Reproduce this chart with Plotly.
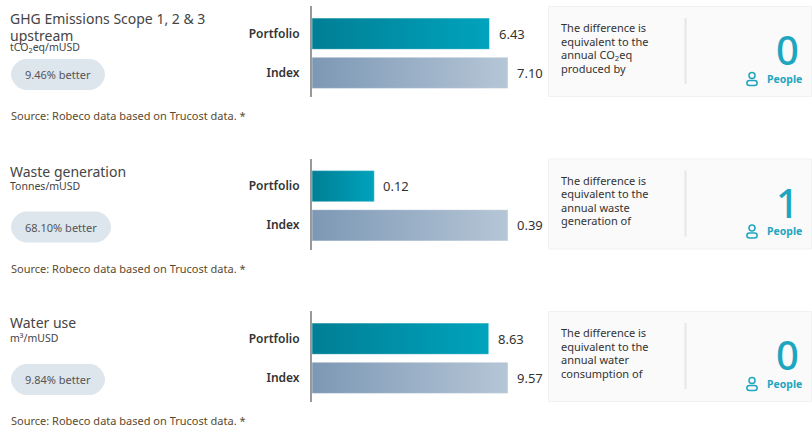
import plotly.graph_objects as go

W, H = 812, 430
FONT = "Noto Sans"
categories = ["Portfolio", "Index"]
titles = [["GHG Emissions Scope 1, 2 &amp; 3", "upstream"], ["Waste generation"], ["Water use"]]
units = ["tCO<sub>2</sub>eq/mUSD", "Tonnes/mUSD", "m³/mUSD"]
portfolio = [6.43, 0.124, 8.63]
index_vals = [7.10, 0.39, 9.57]
better = ["9.46% better", "68.10% better", "9.84% better"]
source = "Source: Robeco data based on Trucost data. *"
card_text = [
    ["The difference is", "equivalent to the", "annual CO<sub>2</sub>eq", "produced by"],
    ["The difference is", "equivalent to the", "annual waste", "generation of"],
    ["The difference is", "equivalent to the", "annual water", "consumption of"],
]
equivalents = ["0", "1", "0"]
people = "People"

TEAL = "#1ea6c0"
offsets = [0, 152.5, 305]
pill_w = [94, 100, 94]
title_y = [[18.5, 35], [171.5], [322.5]]
unit_y = [47, 186, 338]
source_y = [115.5, 268, 420.5]


def px(x):
    return x / W


def py(y):
    return 1 - y / H


fig = go.Figure()
shapes, ann = [], []


def text(x, y, s, size, color, anchor="left", bold=False, weight=None):
    font = dict(size=size, color=color, family=FONT)
    if weight:
        font["weight"] = weight
    ann.append(dict(xref="paper", yref="paper", x=px(x), y=py(y), text=f"<b>{s}</b>" if bold else s,
                    showarrow=False, xanchor=anchor, yanchor="middle",
                    font=font, borderpad=0, borderwidth=0))


layout_axes = {}
for i, off in enumerate(offsets):
    n = "" if i == 0 else str(i + 1)
    vals = [portfolio[i], index_vals[i]]
    fig.add_trace(go.Bar(x=vals, y=categories, orientation="h", xaxis=f"x{n}", yaxis=f"y{n}",
                         width=0.8, marker=dict(color=["#0b8ea6", "#98aec5"], line=dict(width=1, color="rgba(255,255,255,0.45)")),
                         hoverinfo="skip", showlegend=False))
    layout_axes[f"xaxis{n}"] = dict(domain=[px(312), px(508)], range=[0, max(vals)], visible=False,
                                    anchor=f"y{n}", fixedrange=True)
    top, bottom = 6 + off, 97 + off
    layout_axes[f"yaxis{n}"] = dict(domain=[py(bottom), py(top)], range=[1.62, -0.71], type="category",
                                    anchor=f"x{n}", showgrid=False, zeroline=False, ticks="", showline=True,
                                    linecolor="#9a9a9a", linewidth=2, ticklabelstandoff=8,
                                    tickfont=dict(size=12, color="#333333", family=FONT, weight=600),
                                    fixedrange=True)
    for c, v in zip(categories, vals):
        ann.append(dict(xref=f"x{n}", yref=f"y{n}", x=v, y=c, text=f"{v:.2f}", showarrow=False, xanchor="left",
                        xshift=7, font=dict(size=13, color="#333333", family=FONT)))
    # left column
    for line, y in zip(titles[i], title_y[i]):
        text(10, y, line, 14, "#444444")
    text(10, unit_y[i], units[i], 10.5, "#444444")
    pt, pb = 59 + off, 90 + off
    x0, x1, r = 11, 11 + pill_w[i], 15.5
    shapes.append(dict(type="path", xref="paper", yref="paper", fillcolor="#dde5ed", line=dict(width=0),
                       path=f"M {px(x0+r)} {py(pt)} L {px(x1-r)} {py(pt)} "
                            f"C {px(x1-r/2)} {py(pt)} {px(x1)} {py(pt+r/2)} {px(x1)} {py(pt+r)} "
                            f"C {px(x1)} {py(pb-r/2)} {px(x1-r/2)} {py(pb)} {px(x1-r)} {py(pb)} "
                            f"L {px(x0+r)} {py(pb)} "
                            f"C {px(x0+r/2)} {py(pb)} {px(x0)} {py(pb-r/2)} {px(x0)} {py(pb-r)} "
                            f"C {px(x0)} {py(pt+r/2)} {px(x0+r/2)} {py(pt)} {px(x0+r)} {py(pt)} Z"))
    text((x0 + x1) / 2, 74.5 + off, better[i], 11, "#555555", anchor="center")
    text(11, source_y[i], source, 11, "#5b4a2e")
    # card
    shapes.append(dict(type="rect", xref="paper", yref="paper", x0=px(548.5), x1=px(811.5), y0=py(6.5 + off),
                       y1=py(96.5 + off), fillcolor="#fafafa", line=dict(width=1, color="#f1f1f1")))
    shapes.append(dict(type="line", xref="paper", yref="paper", x0=px(685.5), x1=px(685.5), y0=py(18 + off),
                       y1=py(84 + off), line=dict(width=2, color="#e6e6e6")))
    for k, line in enumerate(card_text[i]):
        text(561, 27.5 + off + k * 13.6, line, 11, "#333333")
    text(799, 49.5 + off, equivalents[i], 40, TEAL, anchor="right", weight=500)
    text(802, 78.5 + off, people, 10.5, TEAL, anchor="right", bold=True)
    # person icon
    shapes.append(dict(type="circle", xref="paper", yref="paper", x0=px(749), x1=px(755), y0=py(72.5 + off),
                       y1=py(78.5 + off), line=dict(width=1.5, color=TEAL)))
    shapes.append(dict(type="path", xref="paper", yref="paper", line=dict(width=1.5, color=TEAL),
                       path=f"M {px(749.5)} {py(80.5 + off)} L {px(754.5)} {py(80.5 + off)} "
                            f"C {px(758)} {py(80.5 + off)} {px(758)} {py(85.5 + off)} {px(754.5)} {py(85.5 + off)} "
                            f"L {px(749.5)} {py(85.5 + off)} "
                            f"C {px(746)} {py(85.5 + off)} {px(746)} {py(80.5 + off)} {px(749.5)} {py(80.5 + off)} Z"))

fig.update_layout(width=W, height=H, margin=dict(l=0, r=0, t=0, b=0), paper_bgcolor="white", plot_bgcolor="rgba(0,0,0,0)",
                  shapes=shapes, annotations=ann, barmode="overlay", font=dict(family=FONT), **layout_axes)

gradient_js = """
document.documentElement.style.margin = '0';
document.body.style.margin = '0';
document.body.style.overflow = 'hidden';
var gd = document.getElementById('{plot_id}');
var svg = gd.querySelector('svg.main-svg');
var ns = 'http://www.w3.org/2000/svg';
var defs = document.createElementNS(ns, 'defs');
function mk(id, a, b) {
  var g = document.createElementNS(ns, 'linearGradient');
  g.setAttribute('id', id);
  [[0, a], [1, b]].forEach(function (s) {
    var e = document.createElementNS(ns, 'stop');
    e.setAttribute('offset', s[0]); e.setAttribute('stop-color', s[1]);
    g.appendChild(e);
  });
  defs.appendChild(g);
}
mk('gPort', '#007f95', '#00a3bd');
mk('gIdx', '#7d98b5', '#b5c6d6');
svg.insertBefore(defs, svg.firstChild);
gd.querySelectorAll('.barlayer .trace').forEach(function (t) {
  t.querySelectorAll('.point path').forEach(function (p, i) {
    p.style.fill = 'url(#' + (i === 0 ? 'gPort' : 'gIdx') + ')';
    p.style.fillOpacity = 1;
  });
});
"""
fig.write_html("out.html", post_script=gradient_js, config=dict(displayModeBar=False))
